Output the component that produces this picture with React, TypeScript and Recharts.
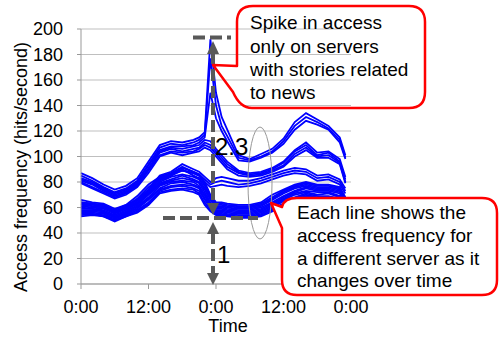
import { CartesianGrid, Line, LineChart, XAxis, YAxis } from "recharts";

// hours since the first 0:00 (two days)
const hours = [0, 2, 4, 6, 8, 10, 12, 14, 16, 18, 20, 21, 22, 23, 24, 25, 26, 28, 30, 32, 34, 36, 38, 40, 42, 44, 46, 47];

const xTicks = [0, 12, 24, 36, 48];
const xTickLabels = ["0:00", "12:00", "0:00", "12:00", "0:00"];
const yTicks = [0, 20, 40, 60, 80, 100, 120, 140, 160, 180, 200];

// servers with news stories (spike just before midnight)
const newsA = [87, 83, 78, 74, 77, 83, 96, 109, 112, 111, 113, 115, 119, 192, 150, 131, 121, 101, 98, 102, 106, 114, 127, 134, 129, 124, 115, 101];
const newsB = [85, 81, 76, 72, 75, 81, 94, 107, 110, 109, 111, 113, 117, 177, 140, 124, 116, 99, 97, 100, 104, 112, 124, 131, 127, 122, 113, 99];
const newsC = [83, 80, 75, 71, 74, 80, 93, 105, 108, 108, 109, 111, 115, 150, 130, 120, 112, 97, 96, 99, 103, 110, 121, 128, 125, 121, 111, 98];

// busy servers, no spike
const busyA = [82, 79, 74, 70, 73, 79, 91, 104, 107, 106, 108, 109, 113, 112, 106, 101, 96, 89, 87, 88, 91, 96, 105, 111, 103, 104, 98, 84];
const busyB = [81, 78, 73, 69, 72, 78, 90, 103, 106, 104, 106, 107, 111, 109, 104, 99, 94, 88, 86, 87, 90, 95, 104, 109, 101, 103, 96, 82];
const busyC = [80, 76, 72, 68, 71, 77, 89, 101, 104, 103, 104, 106, 109, 107, 102, 97, 92, 87, 85, 86, 89, 93, 102, 107, 100, 101, 95, 80];
const busyD = [79, 75, 71, 67, 70, 76, 87, 100, 103, 101, 103, 104, 107, 105, 100, 95, 90, 85, 84, 85, 88, 92, 100, 105, 99, 99, 94, 79];

// middle servers
const midA = [66, 64, 63, 59, 62, 66, 74, 85, 88, 94, 90, 88, 84, 80, 83, 84, 83, 81, 81, 83, 86, 89, 91, 90, 85, 86, 82, 75];
const midB = [64, 63, 61, 57, 60, 64, 72, 83, 86, 91, 88, 86, 82, 78, 80, 81, 80, 78, 79, 81, 84, 87, 89, 88, 83, 84, 80, 73];
const midC = [63, 61, 60, 56, 59, 63, 71, 81, 85, 89, 87, 85, 80, 76, 77, 78, 77, 76, 77, 79, 82, 85, 87, 86, 81, 82, 78, 71];

// the big low cluster
const lowA = [64, 63, 62, 58, 62, 69, 78, 84, 87, 92, 88, 86, 80, 70, 64, 64, 63, 62, 62, 64, 70, 74, 78, 80, 78, 78, 76, 68];
const lowB = [63, 62, 61, 57, 61, 67, 76, 83, 86, 89, 87, 85, 78, 69, 63, 63, 62, 61, 61, 63, 68, 73, 77, 79, 77, 77, 75, 67];
const lowC = [62, 61, 60, 56, 60, 66, 74, 82, 85, 90, 85, 83, 77, 68, 62, 62, 61, 60, 60, 62, 67, 72, 76, 78, 76, 76, 74, 66];
const lowD = [61, 60, 59, 55, 59, 65, 73, 80, 84, 86, 84, 82, 75, 67, 61, 61, 60, 59, 59, 61, 66, 71, 75, 77, 75, 75, 73, 65];
const lowE = [60, 59, 58, 54, 58, 63, 71, 79, 82, 85, 82, 80, 74, 66, 60, 60, 59, 58, 58, 60, 64, 69, 73, 76, 74, 74, 72, 63];
const lowF = [59, 59, 57, 53, 57, 62, 70, 78, 81, 83, 81, 79, 72, 64, 59, 59, 58, 57, 57, 59, 63, 68, 72, 75, 73, 73, 71, 62];
const lowG = [58, 58, 57, 52, 56, 61, 68, 77, 80, 81, 80, 77, 70, 63, 58, 58, 57, 56, 56, 58, 62, 67, 71, 73, 72, 72, 69, 61];
const lowH = [57, 57, 56, 52, 55, 60, 67, 75, 79, 80, 78, 76, 69, 62, 57, 57, 56, 55, 55, 57, 61, 66, 70, 72, 70, 71, 68, 60];
const lowI = [56, 56, 55, 51, 55, 59, 66, 74, 77, 78, 77, 75, 67, 61, 56, 56, 55, 54, 54, 56, 60, 65, 68, 71, 69, 69, 67, 59];
const lowJ = [55, 55, 54, 50, 54, 58, 64, 73, 76, 77, 75, 73, 66, 60, 55, 55, 54, 53, 53, 55, 59, 63, 67, 70, 68, 68, 66, 58];
const lowK = [54, 55, 53, 50, 53, 57, 63, 72, 74, 75, 74, 71, 64, 58, 55, 54, 54, 52, 52, 54, 58, 62, 66, 69, 67, 67, 65, 57];
const lowL = [53, 54, 53, 49, 53, 56, 62, 71, 73, 74, 72, 70, 62, 57, 54, 54, 53, 52, 52, 53, 57, 61, 65, 68, 66, 66, 64, 56];

const servers = [
  newsA, newsB, newsC,
  busyA, busyB, busyC, busyD,
  midA, midB, midC,
  lowA, lowB, lowC, lowD, lowE, lowF, lowG, lowH, lowI, lowJ, lowK, lowL,
];

const data = hours.map((h, i) => {
  const row: Record<string, number> = { h };
  servers.forEach((s, j) => {
    row["s" + j] = s[i];
  });
  return row;
});

const font = "'Liberation Sans', Arial, sans-serif";
const dashGray = "#595959";

// callouts, arrows and labels drawn on top of the chart
const Annotations = () => (
  <svg
    width={500}
    height={347}
    style={{ position: "absolute", left: 0, top: 0, pointerEvents: "none" }}
    fontFamily={font}
  >
    {/* ellipse */}
    <ellipse cx={260} cy={183} rx={12} ry={56} fill="none" stroke="#999" strokeWidth={1} />

    {/* dashed guides */}
    <line x1={193} y1={37.5} x2={231} y2={37.5} stroke={dashGray} strokeWidth={4} strokeDasharray="12 5" />
    <line x1={163} y1={218} x2={258} y2={218} stroke={dashGray} strokeWidth={4} strokeDasharray="12 5" />
    <line x1={213} y1={52} x2={213} y2={205} stroke={dashGray} strokeWidth={4} strokeDasharray="12 5" />
    <line x1={213} y1={232} x2={213} y2={275} stroke={dashGray} strokeWidth={4} strokeDasharray="12 5" />
    <polygon points="213,41 207,54 219,54" fill={dashGray} />
    <polygon points="213,215 207,203 219,203" fill={dashGray} />
    <polygon points="213,222 207,234 219,234" fill={dashGray} />
    <polygon points="213,285 207,273 219,273" fill={dashGray} />
    <text x={215} y={155} fontSize={24} fill="#000">2.3</text>
    <text x={217} y={263} fontSize={24} fill="#000">1</text>

    {/* callout: spike */}
    <path
      d="M 253 6 L 409 6 Q 425 6 425 22 L 425 92 Q 425 108 409 108 L 252 108 Q 240 108 233 92 L 213 65 L 237 66 L 237 22 Q 237 6 253 6 Z"
      fill="none"
      stroke="#ff0000"
      strokeWidth={2.5}
      strokeLinejoin="round"
    />
    <text x={250} fontSize={19} fill="#000">
      <tspan x={250} y={29}>Spike in access</tspan>
      <tspan x={250} y={52.5}>only on servers</tspan>
      <tspan x={250} y={75.5}>with stories related</tspan>
      <tspan x={250} y={99}>to news</tspan>
    </text>

    {/* callout: each line */}
    <path
      d="M 297 198 L 482 198 Q 497 198 497 213 L 497 280 Q 497 295 482 295 L 297 295 Q 282 295 282 280 L 282 228 L 271 203 L 282 207 Q 284 198 297 198 Z"
      fill="#fff"
      stroke="#ff0000"
      strokeWidth={2.5}
      strokeLinejoin="round"
    />
    <text fontSize={19} fill="#000">
      <tspan x={297} y={219}>Each line shows the</tspan>
      <tspan x={297} y={242}>access frequency for</tspan>
      <tspan x={297} y={264.5}>a different server as it</tspan>
      <tspan x={297} y={287}>changes over time</tspan>
    </text>

    {/* axis titles */}
    <text x={228} y={332} fontSize={18} textAnchor="middle" fill="#000">Time</text>
    <text transform="translate(27,167) rotate(-90)" fontSize={18} textAnchor="middle" fill="#000">
      Access frequency (hits/second)
    </text>
  </svg>
);

export default function App() {
  return (
    <div style={{ position: "absolute", left: 0, top: 0, width: 500, height: 347, background: "#fff" }}>
      <LineChart
        width={500}
        height={347}
        data={data}
        margin={{ top: 29, right: 149, bottom: 0, left: 0 }}
        style={{ fontFamily: font }}
      >
        <CartesianGrid horizontal vertical={false} stroke="#bfbfbf" />
        <XAxis
          dataKey="h"
          type="number"
          domain={[0, 48]}
          ticks={xTicks}
          tickFormatter={(v: number) => xTickLabels[xTicks.indexOf(v)]}
          height={63}
          stroke="#999"
          tickSize={5}
          tickMargin={11}
          tick={{ fill: "#000", fontSize: 18 }}
          interval={0}
        />
        <YAxis
          domain={[0, 200]}
          ticks={yTicks}
          width={81}
          stroke="#999"
          tickSize={4}
          tickMargin={14}
          tick={{ fill: "#000", fontSize: 18 }}
          interval={0}
        />
        {servers.map((_, j) => (
          <Line
            key={j}
            dataKey={"s" + j}
            type="linear"
            stroke="#0000ff"
            strokeWidth={1.8}
            dot={false}
            isAnimationActive={false}
          />
        ))}
      </LineChart>
      <Annotations />
    </div>
  );
}
